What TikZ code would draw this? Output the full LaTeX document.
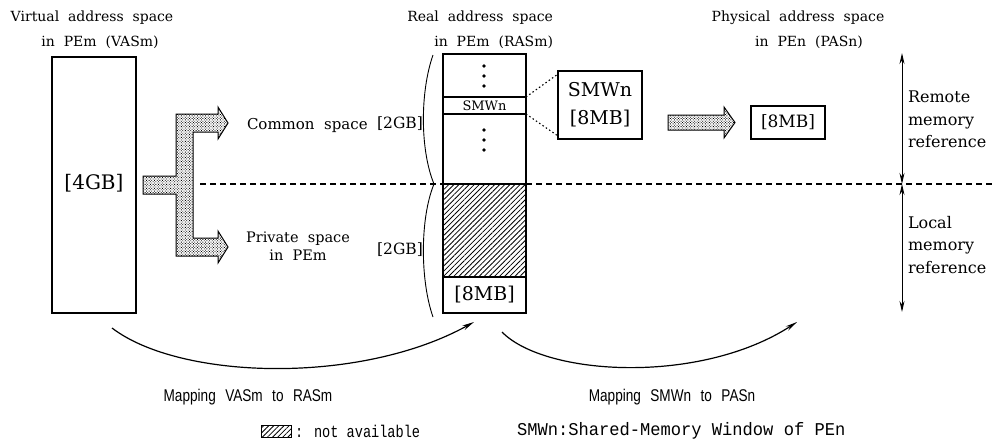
\documentclass[tikz,border=0pt]{standalone}
\usepackage{fontspec}
\setmainfont{DejaVu Serif}
\newfontfamily\dvs[WordSpace=2]{DejaVu Serif}
\newfontfamily\nsans[FakeStretch=0.8,WordSpace=2.5]{Liberation Sans}
\newfontfamily\nmono[FakeStretch=0.95]{Liberation Mono}
\newfontfamily\nmonoc[FakeStretch=0.8]{Liberation Mono}
\usetikzlibrary{patterns.meta,arrows.meta}
\newcommand\fsz[2]{\fontsize{#1}{#2}\selectfont}
\begin{document}
\begin{tikzpicture}[x=1pt,y=-1pt,line join=miter,
  box/.style={draw,line width=1.2pt,inner sep=0pt,outer sep=0pt},
  hatch/.style={pattern={Lines[angle=45,distance=3.6pt,line width=0.8pt]}},
  dotfill/.style={pattern={Dots[distance=1.9pt,radius=0.6pt,angle=45]}},
  lbl/.style={inner sep=0pt,outer sep=0pt},
  ttl/.style={lbl,font=\dvs\fsz{14}{17}},
  side/.style={lbl,font=\dvs\fsz{16}{22.5},align=left,anchor=west},
  dash line/.style={line width=1.9pt,dash pattern=on 6pt off 4pt},
  dot line/.style={line width=1.1pt,dash pattern=on 1.5pt off 2.5pt},
  dbl/.style={line width=1pt,{Stealth[length=11pt,width=5pt]}-{Stealth[length=11pt,width=5pt]}},
  maparrow/.style={line width=1.2pt,-{Stealth[length=12pt,width=5pt]}},
  mapl/.style={lbl,font=\nsans\fsz{17}{20}},
  legend/.style={lbl,font=\nmono\fsz{18}{20},anchor=west}
]
\useasboundingbox (0,0) rectangle (993,445);

% titles
\node[ttl] (t1a) at (92,18) {Virtual address space};
\node[ttl] (t1b) at (100,42) {in PEm (VASm)};
\node[ttl,anchor=east] (t2a) at (553,18) {Real address space};
\node[ttl,anchor=east] (t2b) at (553,42) {in PEm (RASm)};
\node[ttl] (t3a) at (798,18) {Physical address space};
\node[ttl] (t3b) at (809,42) {in PEn (PASn)};

% VASm
\node[box,minimum width=84pt,minimum height=256pt] (vas) at (94,185) {};
\node[lbl,font=\dvs\fsz{20}{24}] (vas4) at (94,183) {[4GB]};

% RASm
\node[box,minimum width=83pt,minimum height=259pt] (ras) at (484.5,183.5) {};
\node[box,minimum width=83pt,minimum height=17pt,font=\dvs\fsz{13}{15}] (band) at (484.5,105.5) {SMWn};
\node[box,hatch,minimum width=83pt,minimum height=93pt] (na) at (484.5,230.5) {};
\node[box,minimum width=83pt,minimum height=36pt,font=\dvs\fsz{19}{22}] (m8) at (484.5,295) {[8MB]};
\foreach \yy in {66,76,86,130,140,150} \fill (484,\yy) circle (1.8pt);

% dashed line
\coordinate (dl) at (200,184);
\coordinate (dr) at (993,184);
\draw[dash line] (dl) -- (na.north west);
\draw[dash line] (na.north east) -- (dr);

% brace
\draw[line width=0.9pt] (433,55) .. controls (420,92) and (420,150) .. (434,184)
      .. controls (420,218) and (420,280) .. (433,317);

% T-shaped block arrow
\draw[line width=1pt,dotfill] (143,176) -- (176,176) -- (176,114) -- (218,114) -- (218,107)
  -- (228,123) -- (218,139) -- (218,132) -- (193,132) -- (193,238) -- (218,238) -- (218,231)
  -- (228,247) -- (218,263) -- (218,256) -- (176,256) -- (176,194) -- (143,194) -- cycle;

% labels of spaces
\node[lbl,anchor=west,font=\dvs\fsz{15}{17}] (cs) at (247,125) {Common space};
\node[lbl,font=\dvs\fsz{15.5}{18}] (cs2) at (400,124) {[2GB]};
\node[lbl,align=center,font=\dvs\fsz{14.5}{18}] (ps) at (298,246) {Private space\\in PEm};
\node[lbl,font=\dvs\fsz{15.5}{18}] (ps2) at (400,250) {[2GB]};

% SMWn window
\node[box,minimum width=84pt,minimum height=68pt,align=center,font=\dvs\fsz{19}{28}] (smw) at (600,105) {SMWn\\{[8MB]}};
\draw[dot line] (band.north east) -- ([yshift=-3pt]smw.north west);
\draw[dot line] (band.south east) -- ([yshift=3pt]smw.south west);

% horizontal block arrow
\draw[line width=1pt,dotfill] (668,115) -- (724,115) -- (724,107) -- (735,122.5) -- (724,138) -- (724,130) -- (668,130) -- cycle;

% PASn
\node[box,minimum width=74pt,minimum height=33pt,font=\dvs\fsz{17}{20}] (pas) at (788,122.5) {[8MB]};

% memory reference arrows
\coordinate (rt) at (902,53);
\coordinate (mid) at (902,184);
\coordinate (lb) at (902,312);
\draw[dbl] (rt) -- (mid);
\draw[dbl] (mid) -- (lb);
\node[side] (rem) at (908,119.5) {Remote\\memory\\reference};
\node[side] (loc) at (908,245) {Local\\memory\\reference};

% mapping arcs
\coordinate (a1s) at (112,328);
\coordinate (a1e) at (474,322);
\coordinate (a2s) at (502,332);
\coordinate (a2e) at (797,322);
\draw[maparrow] (a1s) .. controls (180,380) and (360,385) .. (a1e);
\draw[maparrow] (a2s) .. controls (545,376) and (700,385) .. (a2e);
\node[mapl] (m1) at (248,397) {Mapping VASm to RASm};
\node[mapl] (m2) at (672,397) {Mapping SMWn to PASn};

% legend
\node[box,hatch,line width=0.8pt,minimum width=30pt,minimum height=12pt] (lh) at (276,431) {};
\node[lbl,anchor=west,font=\nmonoc\fsz{17}{20}] (lt) at (295,431) {: not available};
\node[legend] (lsm) at (517,431) {SMWn:Shared-Memory Window of PEn};
\end{tikzpicture}
\end{document}
